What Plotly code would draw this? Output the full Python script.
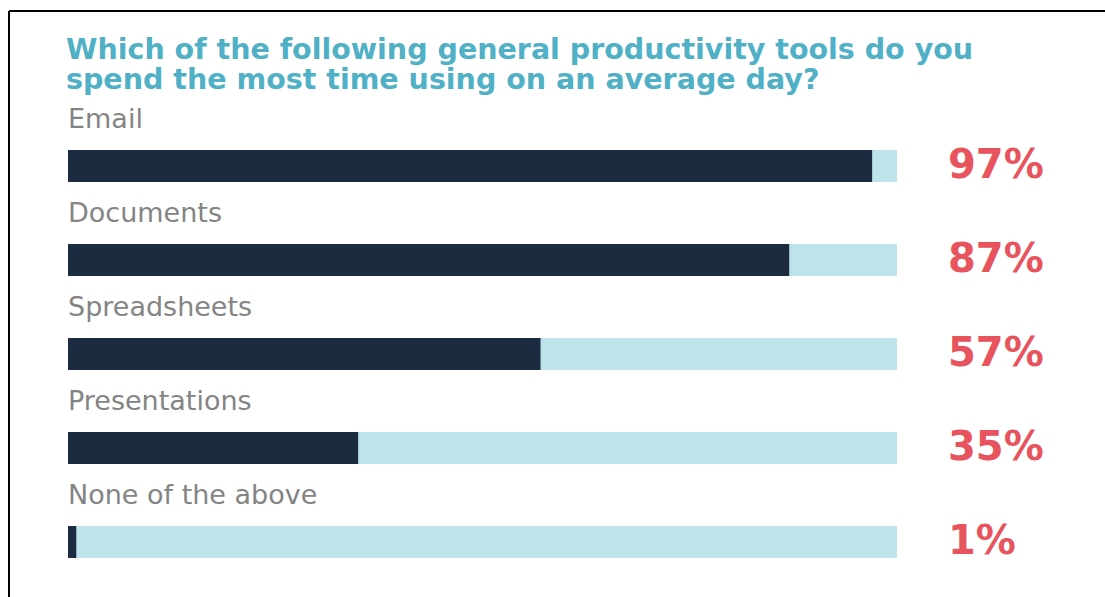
import plotly.graph_objects as go

# Survey results: share of respondents per productivity tool
categories = ["Email", "Documents", "Spreadsheets", "Presentations", "None of the above"]
values = [97, 87, 57, 35, 1]
track = [100, 100, 100, 100, 100]
value_labels = ["97%", "87%", "57%", "35%", "1%"]

title_lines = [
    "Which of the following general productivity tools do you",
    "spend the most time using on an average day?",
]

DARK = "#1c2b40"
LIGHT = "#bee4eb"
TEAL = "#4fb0c6"
RED = "#e8545e"
GRAY = "#848484"

W, H = 1105, 597
L, R, T, B = 68, 208, 119, 8

ypos = list(range(len(categories)))

fig = go.Figure()
fig.add_trace(go.Bar(
    x=track, y=ypos, orientation="h", marker=dict(color=LIGHT, line=dict(width=0)),
    width=0.34, hoverinfo="skip", showlegend=False,
))
fig.add_trace(go.Bar(
    x=values, y=ypos, orientation="h", marker=dict(color=DARK, line=dict(width=0)),
    width=0.34, showlegend=False,
    customdata=categories, hovertemplate="%{customdata}: %{x}%<extra></extra>",
))

pw, ph = W - L - R, H - T - B
def px_x(p):
    return (p - L) / pw
def px_y(p):
    return (H - B - p) / ph

annotations = []
for i, (cat, lab) in enumerate(zip(categories, value_labels)):
    annotations.append(dict(
        x=0, xref="paper", y=i, yref="y", xanchor="left", yanchor="middle",
        yshift=48, xshift=-2, text=cat, showarrow=False,
        font=dict(family="DejaVu Sans", size=27, color=GRAY),
    ))
    annotations.append(dict(
        x=px_x(946), xref="paper", y=i, yref="y",
        xanchor="left", yanchor="middle", yshift=2, text=lab, showarrow=False,
        font=dict(family="DejaVu Sans", size=40, color=RED, weight="bold"),
    ))

# Two-line question heading
for line, yc in zip(title_lines, [50, 80]):
    annotations.append(dict(
        x=px_x(64), xref="paper", y=px_y(yc), yref="paper",
        xanchor="left", yanchor="middle", text=line, showarrow=False,
        font=dict(family="DejaVu Sans", size=28.5, color=TEAL, weight="bold"),
    ))

shapes = [
    dict(type="line", xref="paper", yref="paper",
         x0=px_x(9), x1=px_x(W + 5), y0=px_y(11), y1=px_y(11),
         line=dict(color="black", width=2)),
    dict(type="line", xref="paper", yref="paper",
         x0=px_x(9), x1=px_x(9), y0=px_y(11), y1=px_y(H + 5),
         line=dict(color="black", width=2)),
]

fig.update_layout(
    width=W, height=H,
    margin=dict(l=L, r=R, t=T, b=B, pad=0),
    barmode="overlay",
    paper_bgcolor="white", plot_bgcolor="white",
    xaxis=dict(range=[0, 100], visible=False, fixedrange=True),
    yaxis=dict(range=[len(categories) - 0.5, -0.5], visible=False, fixedrange=True),
    annotations=annotations,
    shapes=shapes,
)

fig.write_html("out.html")
